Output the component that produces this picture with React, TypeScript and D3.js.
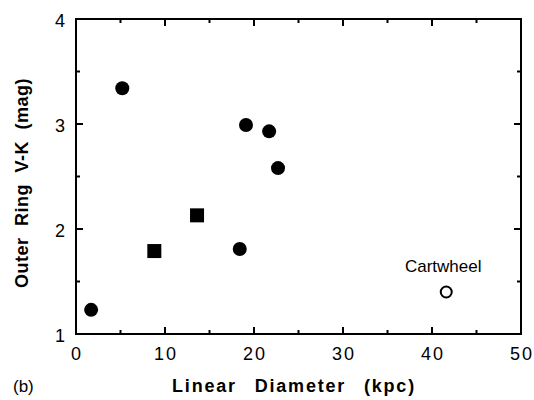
import React from "react";
import * as d3 from "d3";

const filledCircles: [number, number][] = [
  [1.7, 1.23],
  [5.2, 3.34],
  [18.4, 1.81],
  [19.1, 2.99],
  [21.7, 2.93],
  [22.7, 2.58],
];
const filledSquares: [number, number][] = [
  [8.8, 1.79],
  [13.6, 2.13],
];
const openCircles: [number, number][] = [[41.6, 1.4]];
const xTicks = [0, 10, 20, 30, 40, 50];
const xMinor = [5, 15, 25, 35, 45];
const yTicks = [1, 2, 3, 4];
const yMinor = [1.5, 2.5, 3.5];

export default function App() {
  const W = 534, H = 400;
  const left = 76, right = 521, top = 19, bottom = 334;
  const x = d3.scaleLinear().domain([0, 50]).range([left, right]);
  const y = d3.scaleLinear().domain([1, 4]).range([bottom, top]);
  const font = "'Liberation Sans', Arial, Helvetica, sans-serif";
  const major = 7, minor = 4;
  return (
    <svg width={W} height={H} style={{ position: "absolute", left: 0, top: 0, background: "#fff" }}
      fontFamily={font}>
      <rect x={left} y={top} width={right - left} height={bottom - top} fill="none" stroke="#000" strokeWidth={2} />
      {xTicks.map((t) => (
        <g key={"xt" + t}>
          <line x1={x(t)} x2={x(t)} y1={bottom} y2={bottom - major} stroke="#000" strokeWidth={2} />
          <line x1={x(t)} x2={x(t)} y1={top} y2={top + major} stroke="#000" strokeWidth={2} />
          <text x={x(t) + 1} y={360} textAnchor="middle" fontSize={18} letterSpacing={2} fill="#000">{t}</text>
        </g>
      ))}
      {xMinor.map((t) => (
        <g key={"xm" + t}>
          <line x1={x(t)} x2={x(t)} y1={bottom} y2={bottom - minor} stroke="#000" strokeWidth={2} />
          <line x1={x(t)} x2={x(t)} y1={top} y2={top + minor} stroke="#000" strokeWidth={2} />
        </g>
      ))}
      {yTicks.map((t) => (
        <g key={"yt" + t}>
          <line x1={left} x2={left + major} y1={y(t)} y2={y(t)} stroke="#000" strokeWidth={2} />
          <line x1={right} x2={right - major} y1={y(t)} y2={y(t)} stroke="#000" strokeWidth={2} />
          <text x={65} y={y(t) + 8} textAnchor="end" fontSize={18} fill="#000">{t}</text>
        </g>
      ))}
      {yMinor.map((t) => (
        <g key={"ym" + t}>
          <line x1={left} x2={left + minor} y1={y(t)} y2={y(t)} stroke="#000" strokeWidth={2} />
          <line x1={right} x2={right - minor} y1={y(t)} y2={y(t)} stroke="#000" strokeWidth={2} />
        </g>
      ))}
      {filledCircles.map((d, i) => (
        <circle key={"fc" + i} cx={x(d[0])} cy={y(d[1])} r={7} fill="#000" />
      ))}
      {filledSquares.map((d, i) => (
        <rect key={"fs" + i} x={x(d[0]) - 7} y={y(d[1]) - 7} width={14} height={14} fill="#000" />
      ))}
      {openCircles.map((d, i) => (
        <circle key={"oc" + i} cx={x(d[0])} cy={y(d[1])} r={5.5} fill="#fff" stroke="#000" strokeWidth={2} />
      ))}
      <text x={x(openCircles[0][0]) - 3} y={272} textAnchor="middle" fontSize={17} fill="#000">Cartwheel</text>
      <text x={294} y={392} textAnchor="middle" fontSize={18} fontWeight="bold" letterSpacing={1.8} wordSpacing={11} fill="#000">Linear Diameter (kpc)</text>
      <text x={13} y={392} fontSize={17} fill="#000">(b)</text>
      <text transform={`translate(28,183) rotate(-90)`} textAnchor="middle" fontSize={18} fontWeight="bold" letterSpacing={0.5} wordSpacing={6} fill="#000">Outer Ring V-K (mag)</text>
    </svg>
  );
}
